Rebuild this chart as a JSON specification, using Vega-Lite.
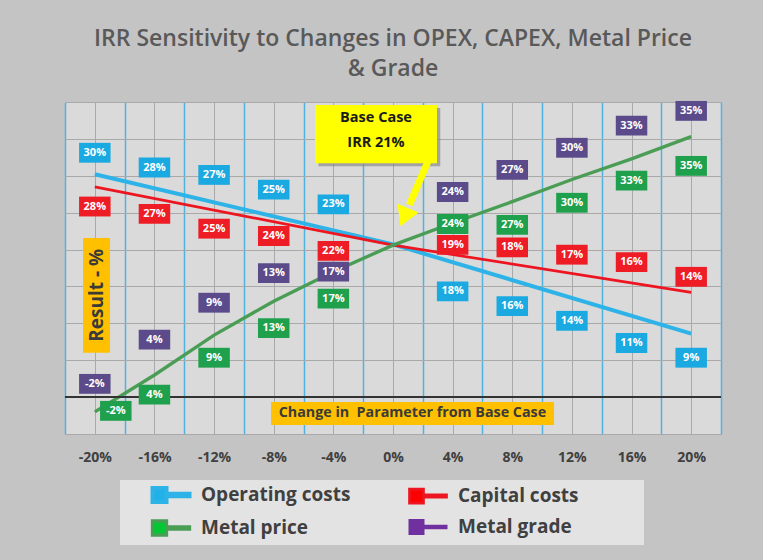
{
  "$schema": "https://vega.github.io/schema/vega-lite/v6.json",
  "width": 656,
  "height": 332,
  "autosize": "none",
  "padding": {"left": 65, "top": 102, "right": 42, "bottom": 126},
  "background": "#c4c4c4",
  "title": {
    "text": ["IRR Sensitivity to Changes in OPEX, CAPEX, Metal Price", "& Grade"],
    "font": "Open Sans", "fontSize": 23, "fontWeight": 600, "color": "#595959",
    "anchor": "middle", "offset": 20, "lineHeight": 30
  },
  "config": {"view": {"fill": "#dadada", "stroke": null}},
  "datasets": {
    "labels": [
      {"series": "Operating costs", "x": -20, "value": 30},
      {"series": "Operating costs", "x": -16, "value": 28},
      {"series": "Operating costs", "x": -12, "value": 27},
      {"series": "Operating costs", "x": -8, "value": 25},
      {"series": "Operating costs", "x": -4, "value": 23},
      {"series": "Operating costs", "x": 4, "value": 18},
      {"series": "Operating costs", "x": 8, "value": 16},
      {"series": "Operating costs", "x": 12, "value": 14},
      {"series": "Operating costs", "x": 16, "value": 11},
      {"series": "Operating costs", "x": 20, "value": 9},
      {"series": "Capital costs", "x": -20, "value": 28},
      {"series": "Capital costs", "x": -16, "value": 27},
      {"series": "Capital costs", "x": -12, "value": 25},
      {"series": "Capital costs", "x": -8, "value": 24},
      {"series": "Capital costs", "x": -4, "value": 22},
      {"series": "Capital costs", "x": 4, "value": 19},
      {"series": "Capital costs", "x": 8, "value": 18},
      {"series": "Capital costs", "x": 12, "value": 17},
      {"series": "Capital costs", "x": 16, "value": 16},
      {"series": "Capital costs", "x": 20, "value": 14},
      {"series": "Metal price", "x": -20, "value": -2},
      {"series": "Metal price", "x": -16, "value": 4},
      {"series": "Metal price", "x": -12, "value": 9},
      {"series": "Metal price", "x": -8, "value": 13},
      {"series": "Metal price", "x": -4, "value": 17},
      {"series": "Metal price", "x": 4, "value": 24},
      {"series": "Metal price", "x": 8, "value": 27},
      {"series": "Metal price", "x": 12, "value": 30},
      {"series": "Metal price", "x": 16, "value": 33},
      {"series": "Metal price", "x": 20, "value": 35},
      {"series": "Metal grade", "x": -20, "value": -2},
      {"series": "Metal grade", "x": -16, "value": 4},
      {"series": "Metal grade", "x": -12, "value": 9},
      {"series": "Metal grade", "x": -8, "value": 13},
      {"series": "Metal grade", "x": -4, "value": 17},
      {"series": "Metal grade", "x": 4, "value": 24},
      {"series": "Metal grade", "x": 8, "value": 27},
      {"series": "Metal grade", "x": 12, "value": 30},
      {"series": "Metal grade", "x": 16, "value": 33},
      {"series": "Metal grade", "x": 20, "value": 35}
    ],
    "lines": [
      {"series": "Operating costs", "x": -20, "value": 30.2},
      {"series": "Operating costs", "x": 0, "value": 20.7},
      {"series": "Operating costs", "x": 20, "value": 8.6},
      {"series": "Capital costs", "x": -20, "value": 28.5},
      {"series": "Capital costs", "x": 0, "value": 20.6},
      {"series": "Capital costs", "x": 20, "value": 14.2},
      {"series": "Metal price", "x": -20, "value": -2},
      {"series": "Metal price", "x": -16, "value": 3},
      {"series": "Metal price", "x": -12, "value": 8.4},
      {"series": "Metal price", "x": -8, "value": 13},
      {"series": "Metal price", "x": -4, "value": 17},
      {"series": "Metal price", "x": 0, "value": 20.6},
      {"series": "Metal price", "x": 4, "value": 23.6},
      {"series": "Metal price", "x": 8, "value": 26.5},
      {"series": "Metal price", "x": 12, "value": 29.5},
      {"series": "Metal price", "x": 16, "value": 32.3},
      {"series": "Metal price", "x": 20, "value": 35.3}
    ]
  },
  "layer": [
    {
      "data": {"name": "lines"},
      "mark": {"type": "line", "strokeCap": "butt"},
      "encoding": {
        "x": {
          "field": "x", "type": "quantitative",
          "scale": {"domain": [-22, 22], "nice": false, "zero": false},
          "axis": {
            "values": [-22, -20, -18, -16, -14, -12, -10, -8, -6, -4, -2, 0, 2, 4, 6, 8, 10, 12, 14, 16, 18, 20, 22],
            "tickCount": 100,
            "labelExpr": "datum.value % 4 == 0 ? datum.value + '%' : ''",
            "grid": true,
            "gridColor": {"condition": {"test": "abs(datum.value) % 4 == 2", "value": "#4fb3e0"}, "value": "#a9a9a9"},
            "gridWidth": {"condition": {"test": "abs(datum.value) % 4 == 2", "value": 1.5}, "value": 1},
            "ticks": false, "domain": false, "title": null,
            "labelFont": "Open Sans", "labelFontSize": 14, "labelFontWeight": "bold", "labelColor": "#404040",
            "labelPadding": 16, "labelFlush": false, "labelOverlap": false
          }
        },
        "y": {
          "field": "value", "type": "quantitative",
          "scale": {"domain": [-5, 40], "nice": false, "zero": false},
          "axis": {
            "values": [-5, 0, 5, 10, 15, 20, 25, 30, 35, 40],
            "tickCount": 100,
            "grid": true, "gridColor": "#a9a9a9", "gridWidth": 1,
            "labels": false, "ticks": false, "domain": false, "title": null
          }
        },
        "color": {
          "field": "series", "type": "nominal",
          "scale": {
            "domain": ["Operating costs", "Metal price", "Capital costs", "Metal grade"],
            "range": ["#2db3e8", "#4a9d55", "#ec1520", "#7030a0"]
          },
          "legend": {
            "orient": "none", "legendX": 55, "legendY": 378,
            "columns": 2, "title": "\u00a0", "titleOrient": "right", "titlePadding": 62, "titleFontSize": 19,
            "symbolType": "M-1.85,-0.7H-0.45V0.7H-1.85Z M-0.45,-0.12H1.85V0.12H-0.45Z",
            "symbolSize": 400, "symbolStrokeWidth": 0, "symbolOffset": 36,
            "labelFont": "Open Sans", "labelFontSize": 19, "labelFontWeight": "bold", "labelColor": "#404040",
            "labelOffset": 18, "labelLimit": 400, "fillColor": "#e3e3e3", "padding": 3, "rowPadding": 4, "columnPadding": 29,
            "encode": {
              "symbols": {
                "update": {
                  "fill": {"signal": "datum.value == 'Metal price' ? '#00c832' : datum.value == 'Operating costs' ? '#1fb1e8' : datum.value == 'Capital costs' ? '#ff0000' : '#7030a0'"},
                  "fillOpacity": {"value": 1},
                  "opacity": {"value": 1},
                  "strokeWidth": {"value": 0}
                }
              }
            }
          }
        },
        "strokeWidth": {
          "field": "series", "type": "nominal",
          "scale": {"domain": ["Operating costs", "Metal price", "Capital costs", "Metal grade"], "range": [4, 2, 4, 1.5]},
          "legend": null
        }
      }
    },
    {
      "data": {"values": [{}]},
      "mark": {"type": "rule", "color": "#333333", "strokeWidth": 2},
      "encoding": {"y": {"datum": 0, "type": "quantitative"}}
    },
    {
      "data": {"values": [{}]},
      "mark": {"type": "rect", "color": "#ffc000"},
      "encoding": {
        "x": {"datum": -20.79, "type": "quantitative"}, "x2": {"datum": -18.98},
        "y": {"datum": 21.57, "type": "quantitative"}, "y2": {"datum": 6.0}
      }
    },
    {
      "data": {"values": [{}]},
      "mark": {"type": "text", "text": "Result - %", "angle": 270, "font": "Open Sans", "fontSize": 19, "fontWeight": "bold", "color": "#3a3a3a", "align": "center", "baseline": "middle"},
      "encoding": {"x": {"datum": -19.88, "type": "quantitative"}, "y": {"datum": 13.8, "type": "quantitative"}}
    },
    {
      "data": {"values": [{}]},
      "mark": {"type": "rect", "color": "#ffc000"},
      "encoding": {
        "x": {"datum": -8.18, "type": "quantitative"}, "x2": {"datum": 10.8},
        "y": {"datum": -0.65, "type": "quantitative"}, "y2": {"datum": -3.77}
      }
    },
    {
      "data": {"values": [{}]},
      "mark": {"type": "text", "text": "Change in\u00a0 Parameter from Base Case", "font": "Open Sans", "fontSize": 14.3, "fontWeight": "bold", "color": "#3a3a3a", "align": "center", "baseline": "middle"},
      "encoding": {"x": {"datum": 1.3, "type": "quantitative"}, "y": {"datum": -2.2, "type": "quantitative"}}
    },
    {
      "data": {"name": "labels"},
      "mark": {
        "type": "point", "shape": "M-1,-0.63H1V0.63H-1Z", "size": 992, "filled": true, "opacity": 1, "strokeWidth": 0,
        "xOffset": {"expr": "datum.series == 'Metal price' && datum.x == -20 ? 21 : 0"},
        "yOffset": {"expr": "datum.series == 'Operating costs' ? (datum.x < 0 ? -23 : 27) : datum.series == 'Capital costs' ? (datum.x < 0 ? 16 : (datum.x == 4 ? -12 : -17)) : datum.series == 'Metal price' ? (datum.x == -20 ? -1 : datum.x == 4 ? 4 : 27) : (datum.x == -4 ? 0 : -28)"}
      },
      "encoding": {
        "x": {"field": "x", "type": "quantitative"},
        "y": {"field": "value", "type": "quantitative"},
        "fill": {
          "field": "series", "type": "nominal",
          "scale": {"domain": ["Operating costs", "Capital costs", "Metal price", "Metal grade"], "range": ["#1ba9e1", "#ee1c25", "#1fa04c", "#5b4b8a"]},
          "legend": null
        }
      }
    },
    {
      "data": {"name": "labels"},
      "transform": [{"calculate": "datum.value + '%'", "as": "label"}],
      "mark": {
        "type": "text", "font": "Open Sans", "fontSize": 11, "fontWeight": "bold", "color": "#ffffff", "align": "center", "baseline": "middle",
        "xOffset": {"expr": "datum.series == 'Metal price' && datum.x == -20 ? 21 : 0"},
        "yOffset": {"expr": "datum.series == 'Operating costs' ? (datum.x < 0 ? -23 : 27) : datum.series == 'Capital costs' ? (datum.x < 0 ? 16 : (datum.x == 4 ? -12 : -17)) : datum.series == 'Metal price' ? (datum.x == -20 ? -1 : datum.x == 4 ? 4 : 27) : (datum.x == -4 ? 0 : -28)"}
      },
      "encoding": {
        "x": {"field": "x", "type": "quantitative"},
        "y": {"field": "value", "type": "quantitative"},
        "text": {"field": "label"}
      }
    },
    {
      "data": {"values": [{}]},
      "mark": {"type": "rect", "color": "#8c8c8c", "opacity": 0.7},
      "encoding": {
        "x": {"datum": -5.0, "type": "quantitative"}, "x2": {"datum": 3.17},
        "y": {"datum": 39.2, "type": "quantitative"}, "y2": {"datum": 31.3}
      }
    },
    {
      "data": {"values": [{}]},
      "mark": {"type": "rect", "color": "#ffff00"},
      "encoding": {
        "x": {"datum": -5.23, "type": "quantitative"}, "x2": {"datum": 2.95},
        "y": {"datum": 39.6, "type": "quantitative"}, "y2": {"datum": 31.7}
      }
    },
    {
      "data": {"values": [{}]},
      "mark": {"type": "text", "text": ["Base Case", "IRR 21%"], "lineHeight": 25, "font": "Open Sans", "fontSize": 14.5, "fontWeight": "bold", "color": "#1a1a1a", "align": "center", "baseline": "middle"},
      "encoding": {"x": {"datum": -1.14, "type": "quantitative"}, "y": {"datum": 37.8, "type": "quantitative"}}
    },
    {
      "data": {"values": [{}]},
      "mark": {"type": "rule", "color": "#ffff00", "strokeWidth": 7},
      "encoding": {
        "x": {"datum": 2.37, "type": "quantitative"}, "x2": {"datum": 1.1},
        "y": {"datum": 32.1, "type": "quantitative"}, "y2": {"datum": 26.06}
      }
    },
    {
      "data": {"values": [{}]},
      "mark": {"type": "point", "shape": "triangle", "angle": 203, "size": 520, "filled": true, "color": "#ffff00", "opacity": 1},
      "encoding": {"x": {"datum": 0.84, "type": "quantitative"}, "y": {"datum": 24.8, "type": "quantitative"}}
    }
  ]
}
